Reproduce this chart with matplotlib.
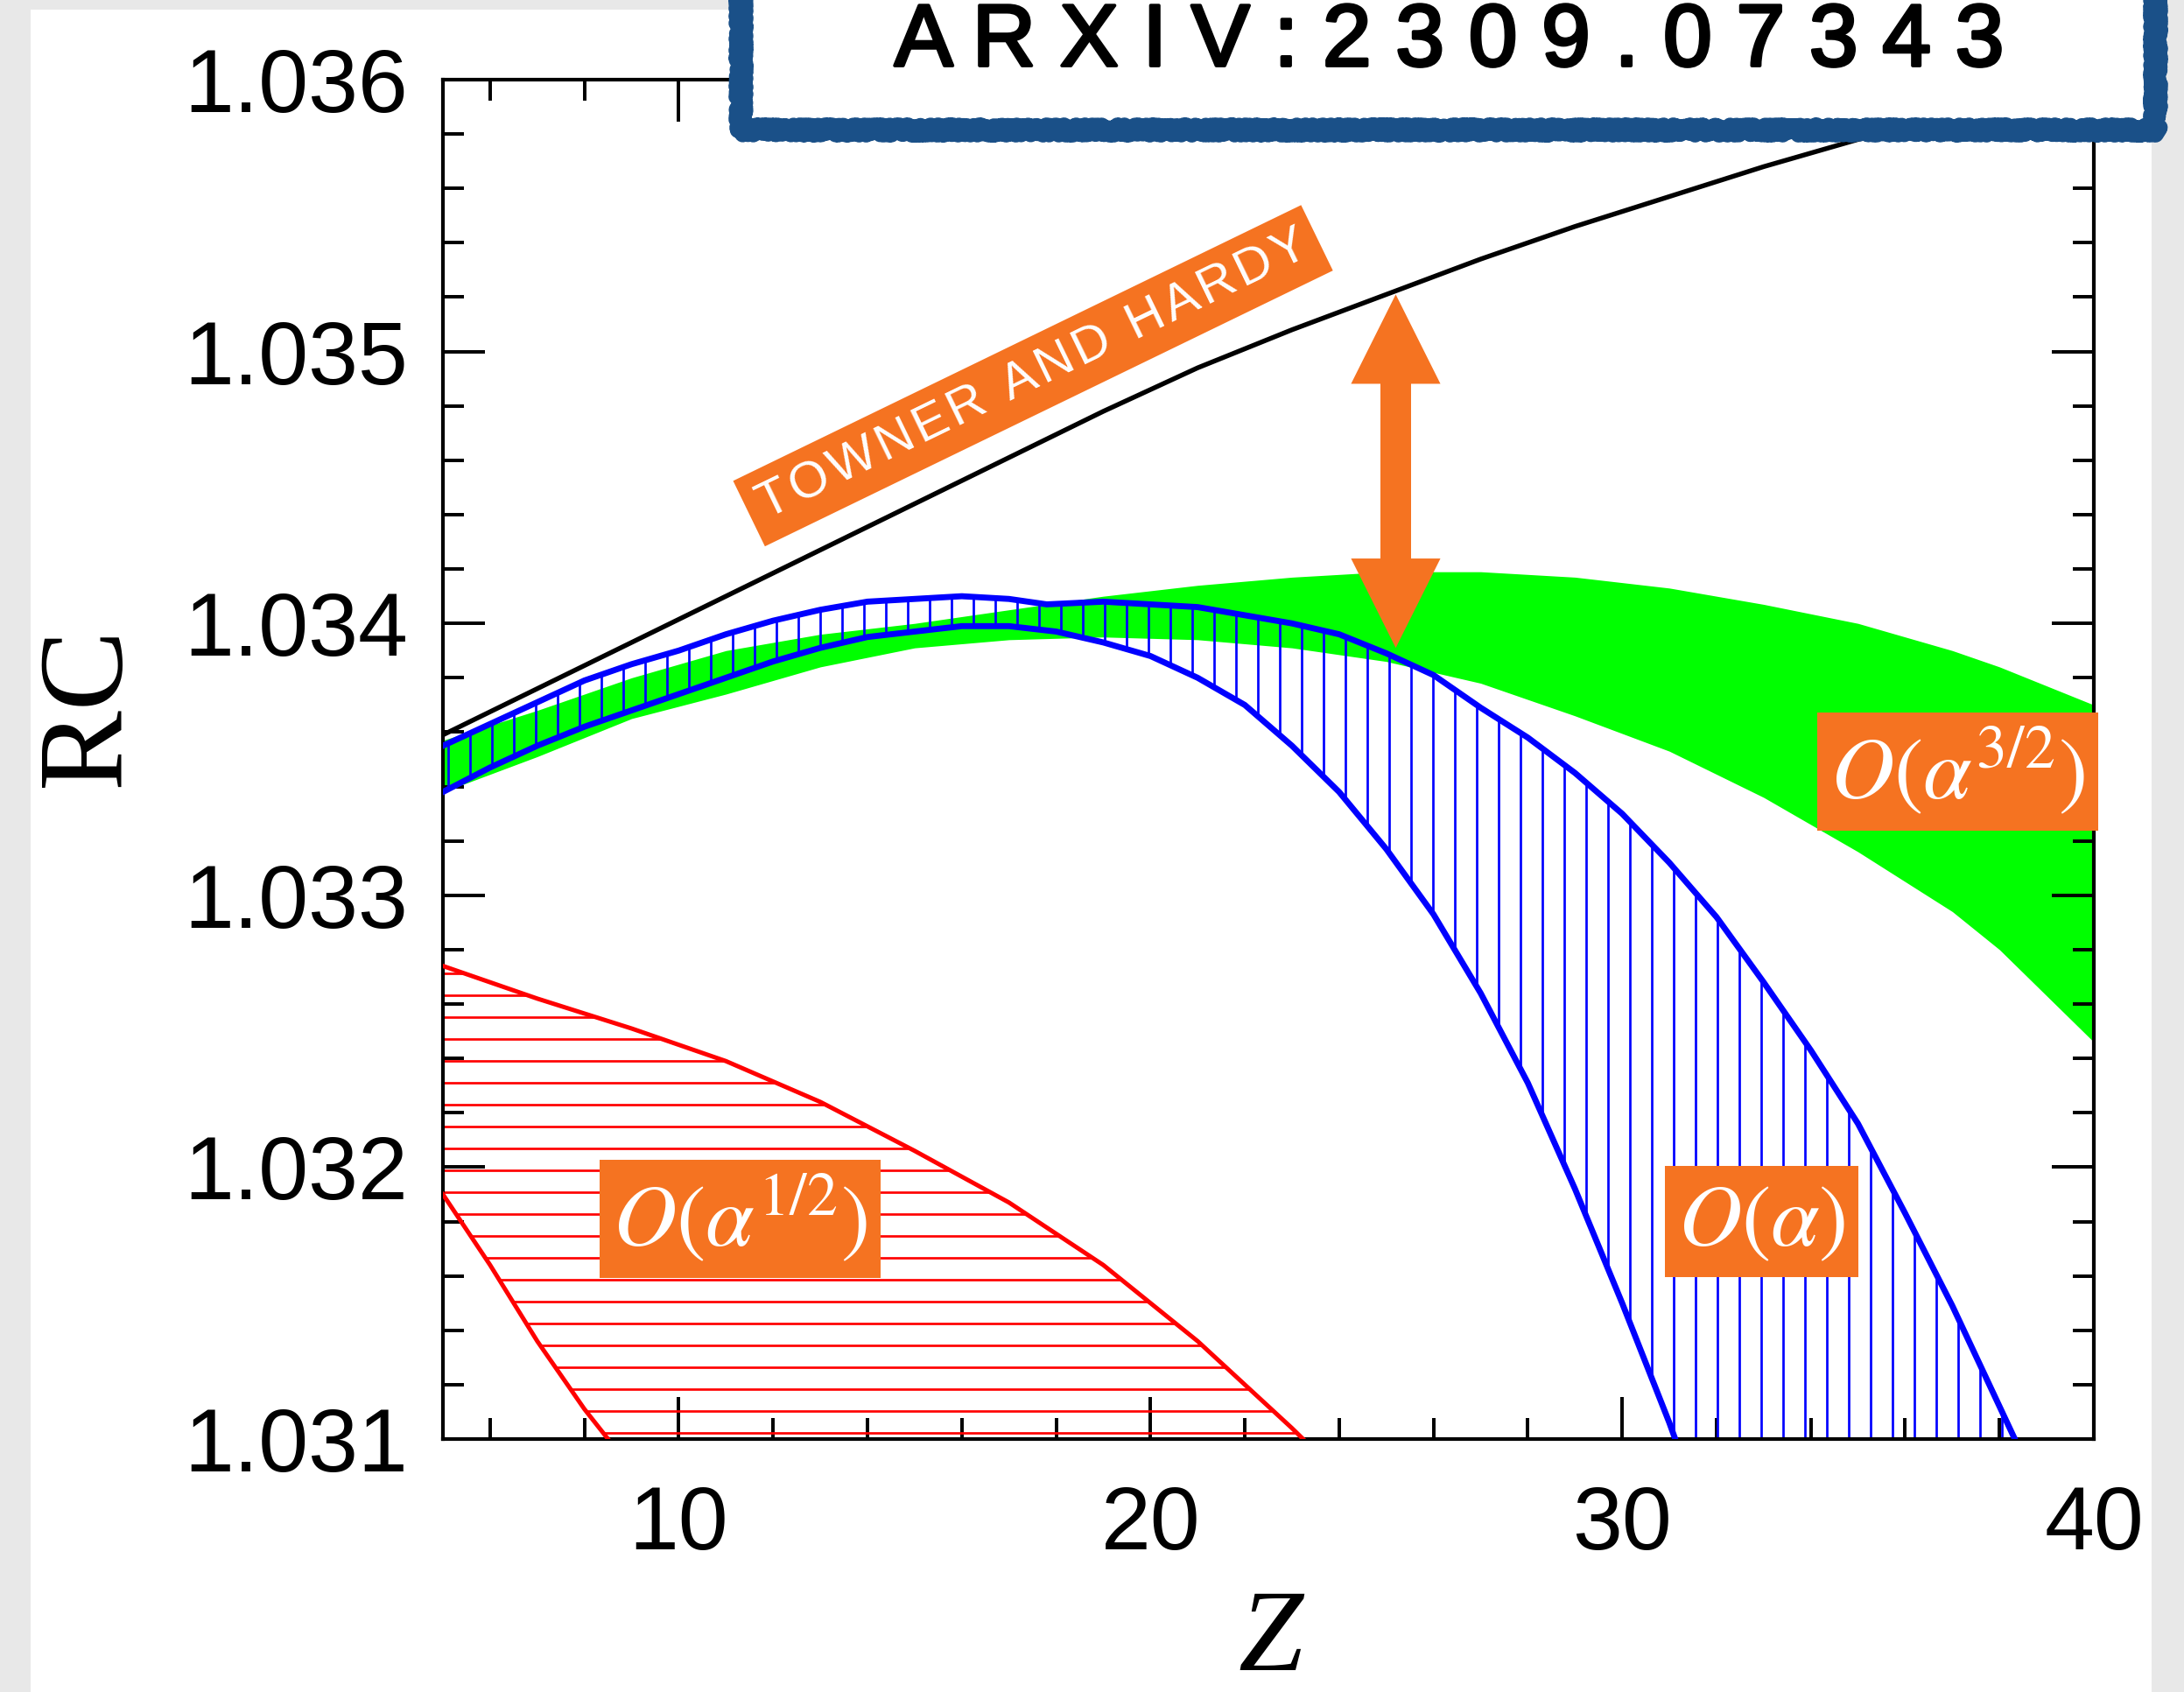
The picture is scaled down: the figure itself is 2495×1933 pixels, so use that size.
import numpy as np
import matplotlib
matplotlib.use('Agg')
import matplotlib.pyplot as plt
from matplotlib.patches import Rectangle, FancyArrowPatch, ArrowStyle
from matplotlib.ticker import MultipleLocator, FormatStrFormatter
import matplotlib.patheffects as pe

# Towner and Hardy curve
th_z = [5, 7, 9, 11, 13, 15, 17, 19, 21, 23, 25, 27, 29, 31, 33, 35, 37, 39, 40]
th_rc = [1.03359, 1.03376, 1.03393, 1.03410, 1.03427, 1.03444, 1.03461, 1.03478,
         1.03494, 1.03508, 1.03521, 1.03534, 1.03546, 1.03557, 1.03568, 1.03578,
         1.03587, 1.03595, 1.03599]

# O(alpha^3/2) band (green)
g_z = [5, 7, 9, 11, 13, 15, 17, 19, 21, 23, 25, 27, 29, 31, 33, 35, 37, 38, 39, 40]
g_hi = [1.03357, 1.03368, 1.03380, 1.03390, 1.03396, 1.03400, 1.03405, 1.03410,
        1.03414, 1.03417, 1.03419, 1.03419, 1.03417, 1.03413, 1.03407, 1.03400,
        1.03390, 1.03384, 1.03377, 1.03370]
g_lo = [1.03338, 1.03351, 1.03365, 1.03374, 1.03384, 1.03391, 1.03394, 1.03395,
        1.03394, 1.03391, 1.03386, 1.03378, 1.03366, 1.03353, 1.03336, 1.03316,
        1.03294, 1.03280, 1.03263, 1.03246]

# O(alpha) band (blue, hatched)
b_hi_z = [5, 6, 7, 8, 9, 10, 11, 12, 13, 14, 15, 16, 17, 17.8, 19, 20, 21, 22, 23,
          24, 25, 26, 27, 28, 29, 30, 31, 32, 33, 34, 35, 36, 37, 38, 39]
b_hi = [1.03355, 1.03363, 1.03371, 1.03379, 1.03385, 1.03390, 1.03396, 1.03401,
        1.03405, 1.03408, 1.03409, 1.03410, 1.03409, 1.03407, 1.03408, 1.03407,
        1.03406, 1.03403, 1.03400, 1.03396, 1.03389, 1.03381, 1.03369, 1.03358,
        1.03345, 1.03330, 1.03312, 1.03292, 1.03268, 1.03243, 1.03216, 1.03183,
        1.03149, 1.03112, 1.03075]
b_lo_z = [5, 6, 7, 8, 9, 10, 11, 12, 13, 14, 15, 16, 17, 18, 19, 20, 21, 22, 23,
          24, 25, 26, 27, 28, 29, 30, 31, 31.5]
b_lo = [1.03338, 1.03347, 1.03355, 1.03362, 1.03368, 1.03374, 1.03380, 1.03386,
        1.03391, 1.03395, 1.03397, 1.03399, 1.03399, 1.03397, 1.03393, 1.03388,
        1.03380, 1.03370, 1.03355, 1.03338, 1.03317, 1.03293, 1.03264, 1.03231,
        1.03192, 1.03150, 1.03106, 1.03082]

# O(alpha^1/2) band (red, hatched)
r_hi_z = [5, 7, 9, 11, 13, 15, 17, 19, 21, 22, 23, 24]
r_hi = [1.03274, 1.03262, 1.03251, 1.03239, 1.03224, 1.03206, 1.03187, 1.03164,
        1.03136, 1.03120, 1.03104, 1.03087]
r_lo_z = [5, 6, 7, 8, 9]
r_lo = [1.03190, 1.03164, 1.03136, 1.03111, 1.03089]

# annotations
arrow_z = 25.2
arrow_top = 1.03521
arrow_bottom = 1.03391
labels = [(r'$O(\alpha^{1/2})$', 11.3, 1.03181),
          (r'$O(\alpha)$', 32.96, 1.03180),
          (r'$O(\alpha^{3/2})$', 37.12, 1.033454)]
th_label = ('TOWNER AND HARDY', 17.51, 1.034911, 25.9)
title = 'ARXIV:2309.07343'

orange = '#f57321'
plt.rcParams['mathtext.fontset'] = 'stix'
plt.rcParams['hatch.linewidth'] = 1.3

W, H = 2495, 1933
fig = plt.figure(figsize=(W / 150, H / 150), dpi=150, facecolor='#e8e8e8')
fig.add_artist(Rectangle((35 / W, 0), (2458 - 35) / W, 1 - 11 / H,
                         transform=fig.transFigure, fc='white', ec='none', zorder=-10))
ax = fig.add_axes([506 / W, 1 - 1644 / H, (2392 - 506) / W, (1644 - 91) / H])

ax.fill_between(g_z, g_lo, g_hi, color='#00ff00', lw=0, zorder=1)

ax.fill(np.concatenate([b_hi_z, b_lo_z[::-1]]), np.concatenate([b_hi, b_lo[::-1]]),
        fill=False, hatch='|', edgecolor='#0000ff', lw=0, zorder=2)
ax.plot(b_hi_z, b_hi, color='#0000ff', lw=3.3, zorder=3)
ax.plot(b_lo_z, b_lo, color='#0000ff', lw=3.3, zorder=3)

ax.fill(np.concatenate([r_hi_z, r_lo_z[::-1]]), np.concatenate([r_hi, r_lo[::-1]]),
        fill=False, hatch='-', edgecolor='#ff0000', lw=0, zorder=2)
ax.plot(r_hi_z, r_hi, color='#ff0000', lw=2.4, zorder=3)
ax.plot(r_lo_z, r_lo, color='#ff0000', lw=2.4, zorder=3)

ax.plot(th_z, th_rc, color='black', lw=2.6, zorder=3)

# double arrow: two simple arrows, tails overlapping in the middle
span = arrow_top - arrow_bottom
style = ArrowStyle.Simple(head_length=49, head_width=49, tail_width=16.8)
for start, tip in ((arrow_bottom + 0.35 * span, arrow_top),
                   (arrow_top - 0.35 * span, arrow_bottom)):
    ax.add_patch(FancyArrowPatch((arrow_z, start), (arrow_z, tip), arrowstyle=style,
                                 mutation_scale=1, shrinkA=0, shrinkB=0,
                                 color=orange, lw=0, zorder=5))

for txt, x, y in labels:
    ax.text(x, y, txt, color='white', fontsize=48, ha='center', va='center', zorder=6,
            bbox=dict(boxstyle='square,pad=0.15', fc=orange, ec='none'))

spaced = '\u200a'.join(th_label[0])
ax.text(th_label[1], th_label[2], spaced, color='white', fontsize=28,
        family=['Liberation Sans', 'DejaVu Sans'], rotation=th_label[3],
        rotation_mode='anchor', ha='center', va='center', zorder=6,
        bbox=dict(boxstyle='square,pad=0.25', fc=orange, ec='none'))

ax.set_xlim(5, 40)
ax.set_ylim(1.031, 1.036)
ax.xaxis.set_major_locator(MultipleLocator(10))
ax.xaxis.set_minor_locator(MultipleLocator(2))
ax.yaxis.set_major_locator(MultipleLocator(0.001))
ax.yaxis.set_minor_locator(MultipleLocator(0.0002))
ax.yaxis.set_major_formatter(FormatStrFormatter('%.3f'))
ax.tick_params(which='both', direction='in', top=True, right=True, width=1.9)
ax.tick_params(which='major', length=23)
ax.tick_params(which='minor', length=11.5)
ax.tick_params(axis='y', which='major', pad=19)
ax.tick_params(axis='x', which='major', pad=25)
for lab in ax.get_xticklabels() + ax.get_yticklabels():
    lab.set_family('Liberation Sans')
    lab.set_fontsize(49)
for s in ax.spines.values():
    s.set_linewidth(2)

fig.text(1451 / W, 1 - 1876 / H, 'Z', family='Liberation Serif', style='italic',
         fontsize=64, ha='center', va='center')
fig.text(103 / W, 1 - 807 / H, 'RC', family='Liberation Serif', fontsize=66,
         rotation=90, ha='center', va='center')

# title box with a rough border
box = Rectangle((846 / W, 1 - 148 / H), (2462 - 846) / W, 0.2, transform=fig.transFigure,
                fc='white', ec='#1a5088', lw=9, zorder=10, clip_on=False)
box.set_joinstyle('round')
box.set_sketch_params(scale=5, length=3, randomness=4)
fig.add_artist(box)
fig.text(1655 / W, 1 - 75 / H, ' '.join(title), family='Liberation Sans', fontsize=48,
         ha='center', va='baseline', zorder=11,
         path_effects=[pe.withStroke(linewidth=1.8, foreground='black')])

fig.savefig('out.png', dpi=150)
